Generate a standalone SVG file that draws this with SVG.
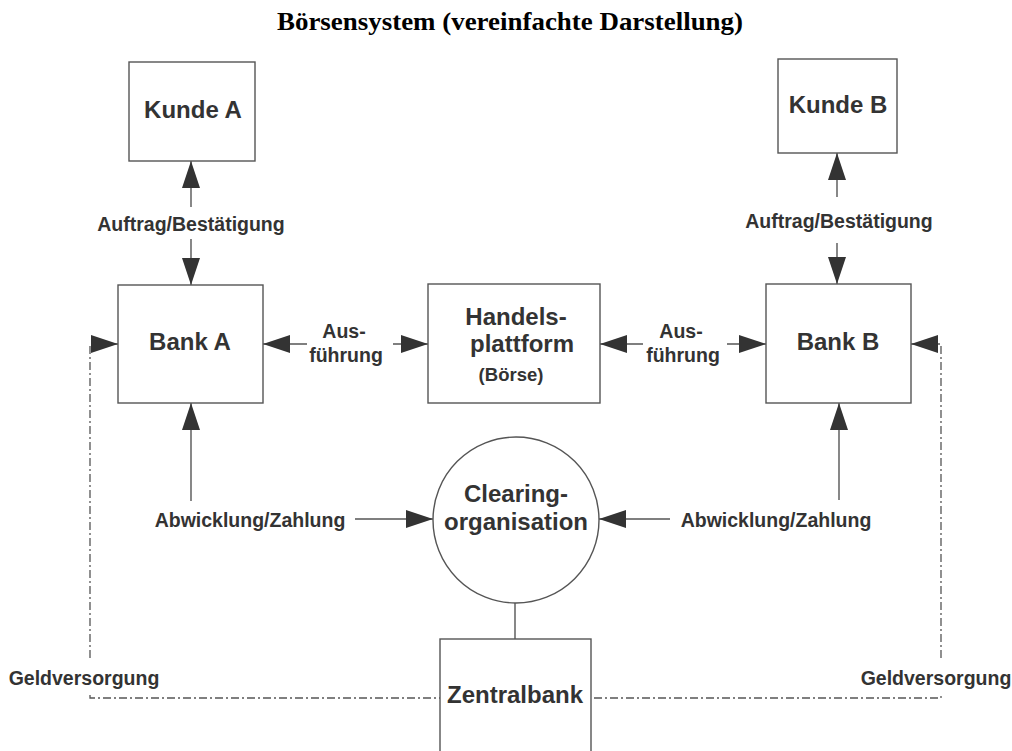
<svg xmlns="http://www.w3.org/2000/svg" width="1012" height="751" viewBox="0 0 1012 751">
  <defs>
    <marker id="ah" markerUnits="userSpaceOnUse" markerWidth="28" markerHeight="20" refX="27" refY="9" orient="auto">
      <path d="M0,0 L27,9 L0,18 Z" fill="#333"/>
    </marker>
    <style>
      .box { fill: #fff; stroke: #555; stroke-width: 1.4; }
      .ln { fill: none; stroke: #555; stroke-width: 1.4; }
      .dash { fill: none; stroke: #555; stroke-width: 1.3; stroke-dasharray: 8 3 2 3; }
      .big { font-family: "Liberation Sans", Arial, sans-serif; font-weight: bold; font-size: 24px; fill: #333; text-anchor: middle; }
      .sm { font-family: "Liberation Sans", Arial, sans-serif; font-weight: bold; font-size: 19.5px; fill: #333; text-anchor: middle; }
      .title { font-family: "Liberation Serif", "Times New Roman", serif; font-weight: bold; font-size: 26px; fill: #000; text-anchor: middle; }
    </style>
  </defs>
  <rect width="1012" height="751" fill="#fff"/>
  <text class="title" x="510" y="30" textLength="466" lengthAdjust="spacingAndGlyphs">Börsensystem (vereinfachte Darstellung)</text>

  <g id="connectors">
    <line class="ln" x1="191" y1="207" x2="191" y2="161" marker-end="url(#ah)"/>
    <line class="ln" x1="191" y1="239" x2="191" y2="285" marker-end="url(#ah)"/>
    <line class="ln" x1="837" y1="197" x2="837" y2="153" marker-end="url(#ah)"/>
    <line class="ln" x1="837" y1="243" x2="837" y2="284" marker-end="url(#ah)"/>
    <line class="ln" x1="307" y1="344" x2="263" y2="344" marker-end="url(#ah)"/>
    <line class="ln" x1="393" y1="344" x2="428" y2="344" marker-end="url(#ah)"/>
    <line class="ln" x1="643" y1="344" x2="600" y2="344" marker-end="url(#ah)"/>
    <line class="ln" x1="727" y1="344" x2="766" y2="344" marker-end="url(#ah)"/>
    <line class="ln" x1="191" y1="501" x2="191" y2="403" marker-end="url(#ah)"/>
    <line class="ln" x1="355" y1="519" x2="433" y2="519" marker-end="url(#ah)"/>
    <line class="ln" x1="839" y1="500" x2="839" y2="403" marker-end="url(#ah)"/>
    <line class="ln" x1="670" y1="519" x2="599" y2="519" marker-end="url(#ah)"/>
    <line class="ln" x1="515" y1="603" x2="515" y2="639"/>
    <path class="dash" d="M90,658 V344 H118" marker-end="url(#ah)"/>
    <path class="dash" d="M90,695 V698 H440"/>
    <path class="dash" d="M594,698 H941 V695"/>
    <path class="dash" d="M941,658 V344 H911" marker-end="url(#ah)"/>
    <text class="sm" x="191" y="231">Auftrag/Bestätigung</text>
    <text class="sm" x="839" y="228">Auftrag/Bestätigung</text>
    <text class="sm" x="344" y="338">Aus-</text>
    <text class="sm" x="346" y="362">führung</text>
    <text class="sm" x="681" y="338">Aus-</text>
    <text class="sm" x="683" y="362">führung</text>
    <text class="sm" x="250" y="527">Abwicklung/Zahlung</text>
    <text class="sm" x="776" y="527">Abwicklung/Zahlung</text>
    <text class="sm" x="84" y="685">Geldversorgung</text>
    <text class="sm" x="936" y="685">Geldversorgung</text>
  </g>

  <g id="kunde-a">
    <rect class="box" x="129" y="62" width="126" height="99"/>
    <text class="big" x="193" y="118">Kunde A</text>
  </g>
  <g id="kunde-b">
    <rect class="box" x="778" y="59" width="119" height="94"/>
    <text class="big" x="838" y="113">Kunde B</text>
  </g>
  <g id="bank-a">
    <rect class="box" x="118" y="285" width="145" height="118"/>
    <text class="big" x="190" y="350">Bank A</text>
  </g>
  <g id="handelsplattform">
    <rect class="box" x="428" y="284" width="172" height="119"/>
    <text class="big" x="516" y="325">Handels-</text>
    <text class="big" x="522" y="352">plattform</text>
    <text class="sm" x="511" y="381" style="font-size:18.5px">(Börse)</text>
  </g>
  <g id="bank-b">
    <rect class="box" x="766" y="284" width="145" height="119"/>
    <text class="big" x="838" y="350">Bank B</text>
  </g>
  <g id="clearing">
    <circle class="box" cx="516" cy="520" r="83"/>
    <text class="big" x="516" y="502">Clearing-</text>
    <text class="big" x="516" y="530">organisation</text>
  </g>
  <g id="zentralbank">
    <rect class="box" x="440" y="639" width="151" height="130"/>
    <text class="big" x="515" y="703">Zentralbank</text>
  </g>
</svg>
